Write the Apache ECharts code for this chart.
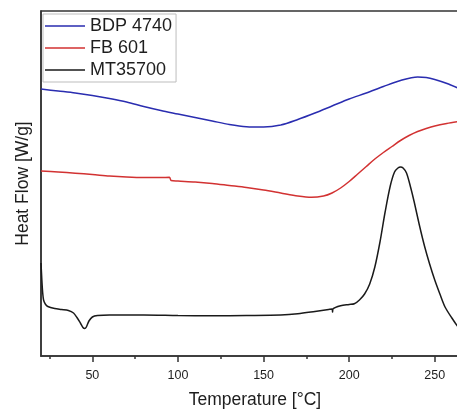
<!DOCTYPE html>
<html>
<head>
<meta charset="utf-8">
<script src="https://cdn.jsdelivr.net/npm/echarts@6/dist/echarts.min.js"></script>
<style>html,body{margin:0;padding:0;background:#fff;}#c{width:457px;height:409px;}</style>
</head>
<body>
<div id="c"></div>
<script>
const seriesNames = ['BDP 4740', 'FB 601', 'MT35700'];
const xTickLabels = [50, 100, 150, 200, 250];
const xMinorTicks = [25, 75, 125, 175, 225];

const bdpT = [20,30,40,50,60,70,80,90,100,110,120,130,140,150,160,170,180,190,200,210,220,230,240,245,250,258,264];
const bdpV = [2.67,2.65,2.63,2.605,2.575,2.54,2.495,2.455,2.42,2.385,2.35,2.315,2.293,2.29,2.31,2.365,2.43,2.50,2.57,2.63,2.695,2.755,2.79,2.785,2.765,2.72,2.675];

const fbT = [20,30,40,50,60,70,80,90,95,96,100,110,120,130,140,150,160,170,178,185,190,195,200,205,210,215,220,225,230,235,240,245,250,257,264];
const fbV = [1.85,1.84,1.828,1.815,1.80,1.79,1.785,1.785,1.787,1.755,1.75,1.74,1.725,1.705,1.685,1.66,1.63,1.60,1.587,1.60,1.63,1.68,1.745,1.82,1.895,1.97,2.035,2.095,2.155,2.205,2.245,2.275,2.30,2.325,2.345];

const mtT = [20,20.5,21,21.5,22.5,24,28,32,36,39,41,43,44.5,45.5,46.5,48,50,53,60,80,100,120,140,160,170,180,188,190,190.3,190.6,195,200,203,206,209,212,215,218,221,224,226.5,228.5,230,231.5,233.5,236,238,241,244,247,250,253,256,260,264];
const mtV = [0.93,0.76,0.63,0.56,0.52,0.495,0.475,0.465,0.455,0.43,0.385,0.33,0.285,0.275,0.29,0.35,0.39,0.405,0.41,0.41,0.405,0.402,0.405,0.41,0.422,0.445,0.465,0.47,0.44,0.472,0.503,0.515,0.522,0.56,0.62,0.72,0.89,1.14,1.44,1.70,1.84,1.88,1.89,1.88,1.83,1.68,1.54,1.31,1.10,0.92,0.76,0.62,0.49,0.38,0.28];

const pair = (xs, ys) => xs.map((x, i) => [x, ys[i]]);
const font = 'Liberation Sans, Arial, sans-serif';
const txt = '#1e1e1e';

const chart = echarts.init(document.getElementById('c'), null, {renderer: 'canvas'});
chart.setOption({
  animation: false,
  backgroundColor: '#fff',
  grid: {left: 41, top: 11, right: -12, bottom: 53, outerBoundsMode: 'none', containLabel: false, show: true, borderColor: '#333', borderWidth: 1.5, backgroundColor: 'transparent'},
  legend: {
    orient: 'vertical', left: 43, top: 14,
    data: seriesNames,
    itemWidth: 40, itemHeight: 18, itemGap: 4,
    padding: [3, 4, 3, 2],
    borderColor: '#bdbdbd', borderWidth: 1, backgroundColor: '#fff',
    textStyle: {fontFamily: font, fontSize: 18, color: txt},
    icon: 'path://M0,8.2 L40,8.2 L40,9.8 L0,9.8 Z M0,0 L0,0.01 L0.01,0.01 Z M40,18 L39.99,18 L40,17.99 Z',
    itemStyle: {borderWidth: 0}
  },
  xAxis: [{
    type: 'value', min: 20, max: 270,
    name: 'Temperature [°C]', nameLocation: 'middle', nameGap: 35,
    nameTextStyle: {fontFamily: font, fontSize: 17.5, color: txt},
    axisLine: {show: true, lineStyle: {color: '#333', width: 1.5}},
    axisTick: {show: true, inside: false, length: 6, customValues: xTickLabels, lineStyle: {color: '#333', width: 1.5}},
    axisLabel: {show: true, customValues: xTickLabels, margin: 13, fontFamily: font, fontSize: 12.5, color: txt},
    splitLine: {show: false}
  }, {
    type: 'value', min: 20, max: 270, position: 'bottom', offset: 0, gridIndex: 0,
    axisLine: {show: false},
    axisTick: {show: true, inside: false, length: 3, customValues: xMinorTicks, lineStyle: {color: '#333', width: 1.5}},
    axisLabel: {show: false},
    splitLine: {show: false}
  }],
  yAxis: {
    type: 'value', min: 0, max: 3.45,
    name: 'Heat Flow [W/g]', nameLocation: 'middle', nameGap: 9,
    nameTextStyle: {fontFamily: font, fontSize: 17.5, color: txt},
    axisLine: {show: true, lineStyle: {color: '#333', width: 1.5}},
    axisTick: {show: false}, axisLabel: {show: false}, splitLine: {show: false}
  },
  series: [
    {name: seriesNames[0], type: 'line', data: pair(bdpT, bdpV), showSymbol: false, symbol: 'none', smooth: 0.3, color: '#2a2db0', lineStyle: {width: 1.5, color: '#2a2db0'}},
    {name: seriesNames[1], type: 'line', data: pair(fbT, fbV), showSymbol: false, symbol: 'none', smooth: 0.3, color: '#d23232', lineStyle: {width: 1.5, color: '#d23232'}},
    {name: seriesNames[2], type: 'line', data: pair(mtT, mtV), showSymbol: false, symbol: 'none', smooth: 0.3, color: '#1a1a1a', lineStyle: {width: 1.5, color: '#1a1a1a'}}
  ]
});
</script>
</body>
</html>
